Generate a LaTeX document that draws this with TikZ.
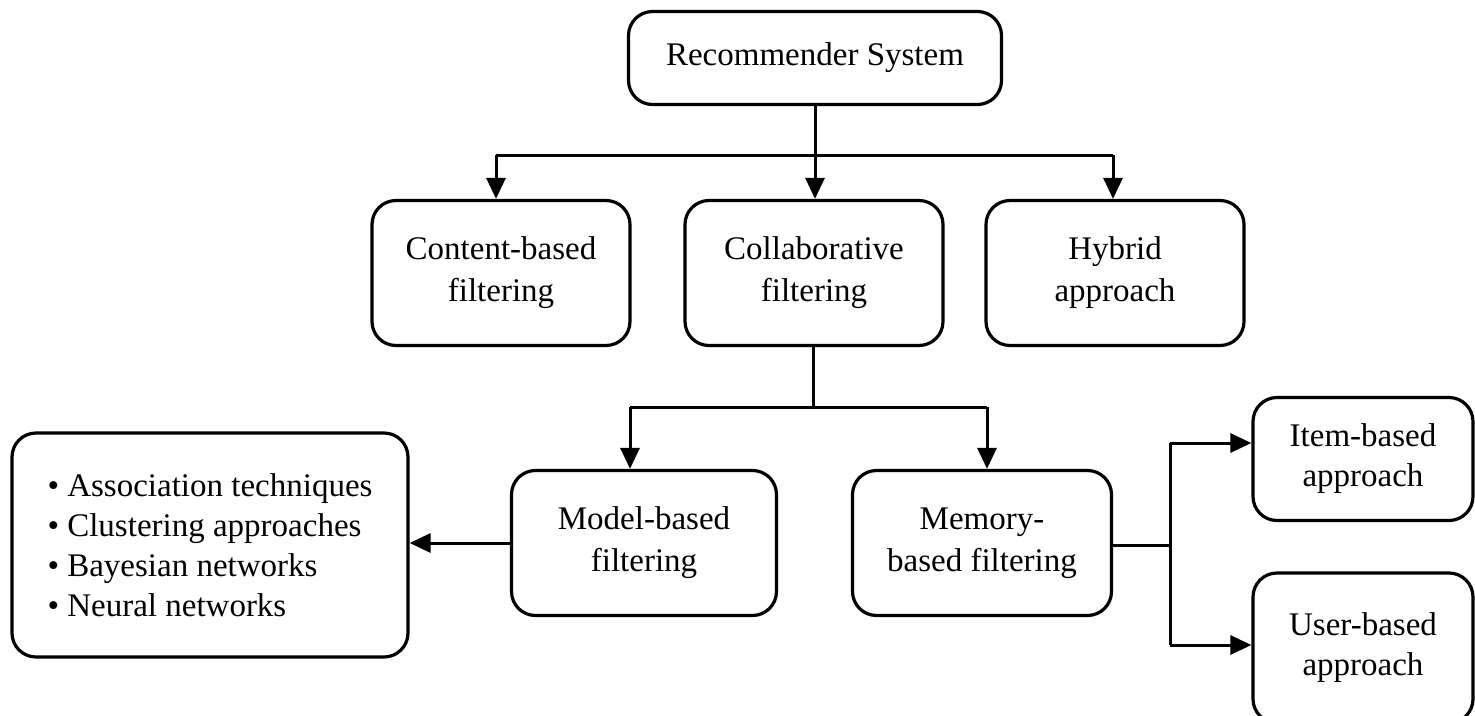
\documentclass[tikz,border=0pt]{standalone}
\usepackage{fontspec}
\setmainfont{Liberation Serif}
\usetikzlibrary{arrows.meta}
\begin{document}
\begin{tikzpicture}[x=1pt,y=-1pt,
  box/.style={draw,line width=3.2pt,rounded corners=24pt,align=center,inner sep=0pt,
    font=\fontsize{33}{42}\selectfont},
  conn/.style={line width=3pt},
  arr/.style={conn,-{Triangle[length=21pt,width=19pt]}}]
\clip (0,0) rectangle (1475,715);
\useasboundingbox (0,0) rectangle (1475,715);
\node[box,minimum width=373pt,minimum height=93pt] (rs) at (815,58) {Recommender System};
\node[box,minimum width=258pt,minimum height=145pt] (cb) at (501,273) {Content-based\\filtering};
\node[box,minimum width=258pt,minimum height=145pt] (cf) at (814,273) {Collaborative\\filtering};
\node[box,minimum width=258pt,minimum height=145pt] (hy) at (1115,273) {Hybrid\\approach};
\node[box,minimum width=265pt,minimum height=145pt] (mb) at (644,543) {Model-based\\filtering};
\node[box,minimum width=259pt,minimum height=145pt] (mem) at (982,543) {Memory-\\based filtering};
\node[box,minimum width=396pt,minimum height=224pt,align=left,font=\fontsize{33}{40}\selectfont] (list) at (210,545)
  {\textbullet\ Association techniques\\\textbullet\ Clustering approaches\\\textbullet\ Bayesian networks\\\textbullet\ Neural networks};
\node[box,minimum width=220pt,minimum height=123pt,font=\fontsize{33}{40}\selectfont] (item) at (1363,459) {Item-based\\approach};
\node[box,minimum width=220pt,minimum height=150pt,font=\fontsize{33}{40}\selectfont] (user) at (1363,648) {User-based\\approach};
% top tree
\coordinate (j1) at (815,155);
\coordinate (j1l) at (496,155);
\coordinate (j1r) at (1113,155);
\draw[conn] (rs.south) -- (j1);
\draw[conn] (j1l) -- (j1r);
\draw[arr] (j1l) -- (j1l |- cb.north);
\draw[arr] (j1) -- (j1 |- cf.north);
\draw[arr] (j1r) -- (j1r |- hy.north);
% collaborative subtree
\coordinate (j2) at (813,407);
\coordinate (j2l) at (630,407);
\coordinate (j2r) at (987,407);
\draw[conn] (cf.south -| j2) -- (j2);
\draw[conn] (j2l) -- (j2r);
\draw[arr] (j2l) -- (j2l |- mb.north);
\draw[arr] (j2r) -- (j2r |- mem.north);
% model to list
\draw[arr] (mb.west) -- (list.east |- mb.west);
% memory subtree
\coordinate (j3) at (1170,545);
\coordinate (j3t) at (1170,443);
\coordinate (j3b) at (1170,645);
\draw[conn] (mem.east |- j3) -- (j3);
\draw[conn] (j3t) -- (j3b);
\draw[arr] (j3t) -- (item.west |- j3t);
\draw[arr] (j3b) -- (user.west |- j3b);
\end{tikzpicture}
\end{document}
